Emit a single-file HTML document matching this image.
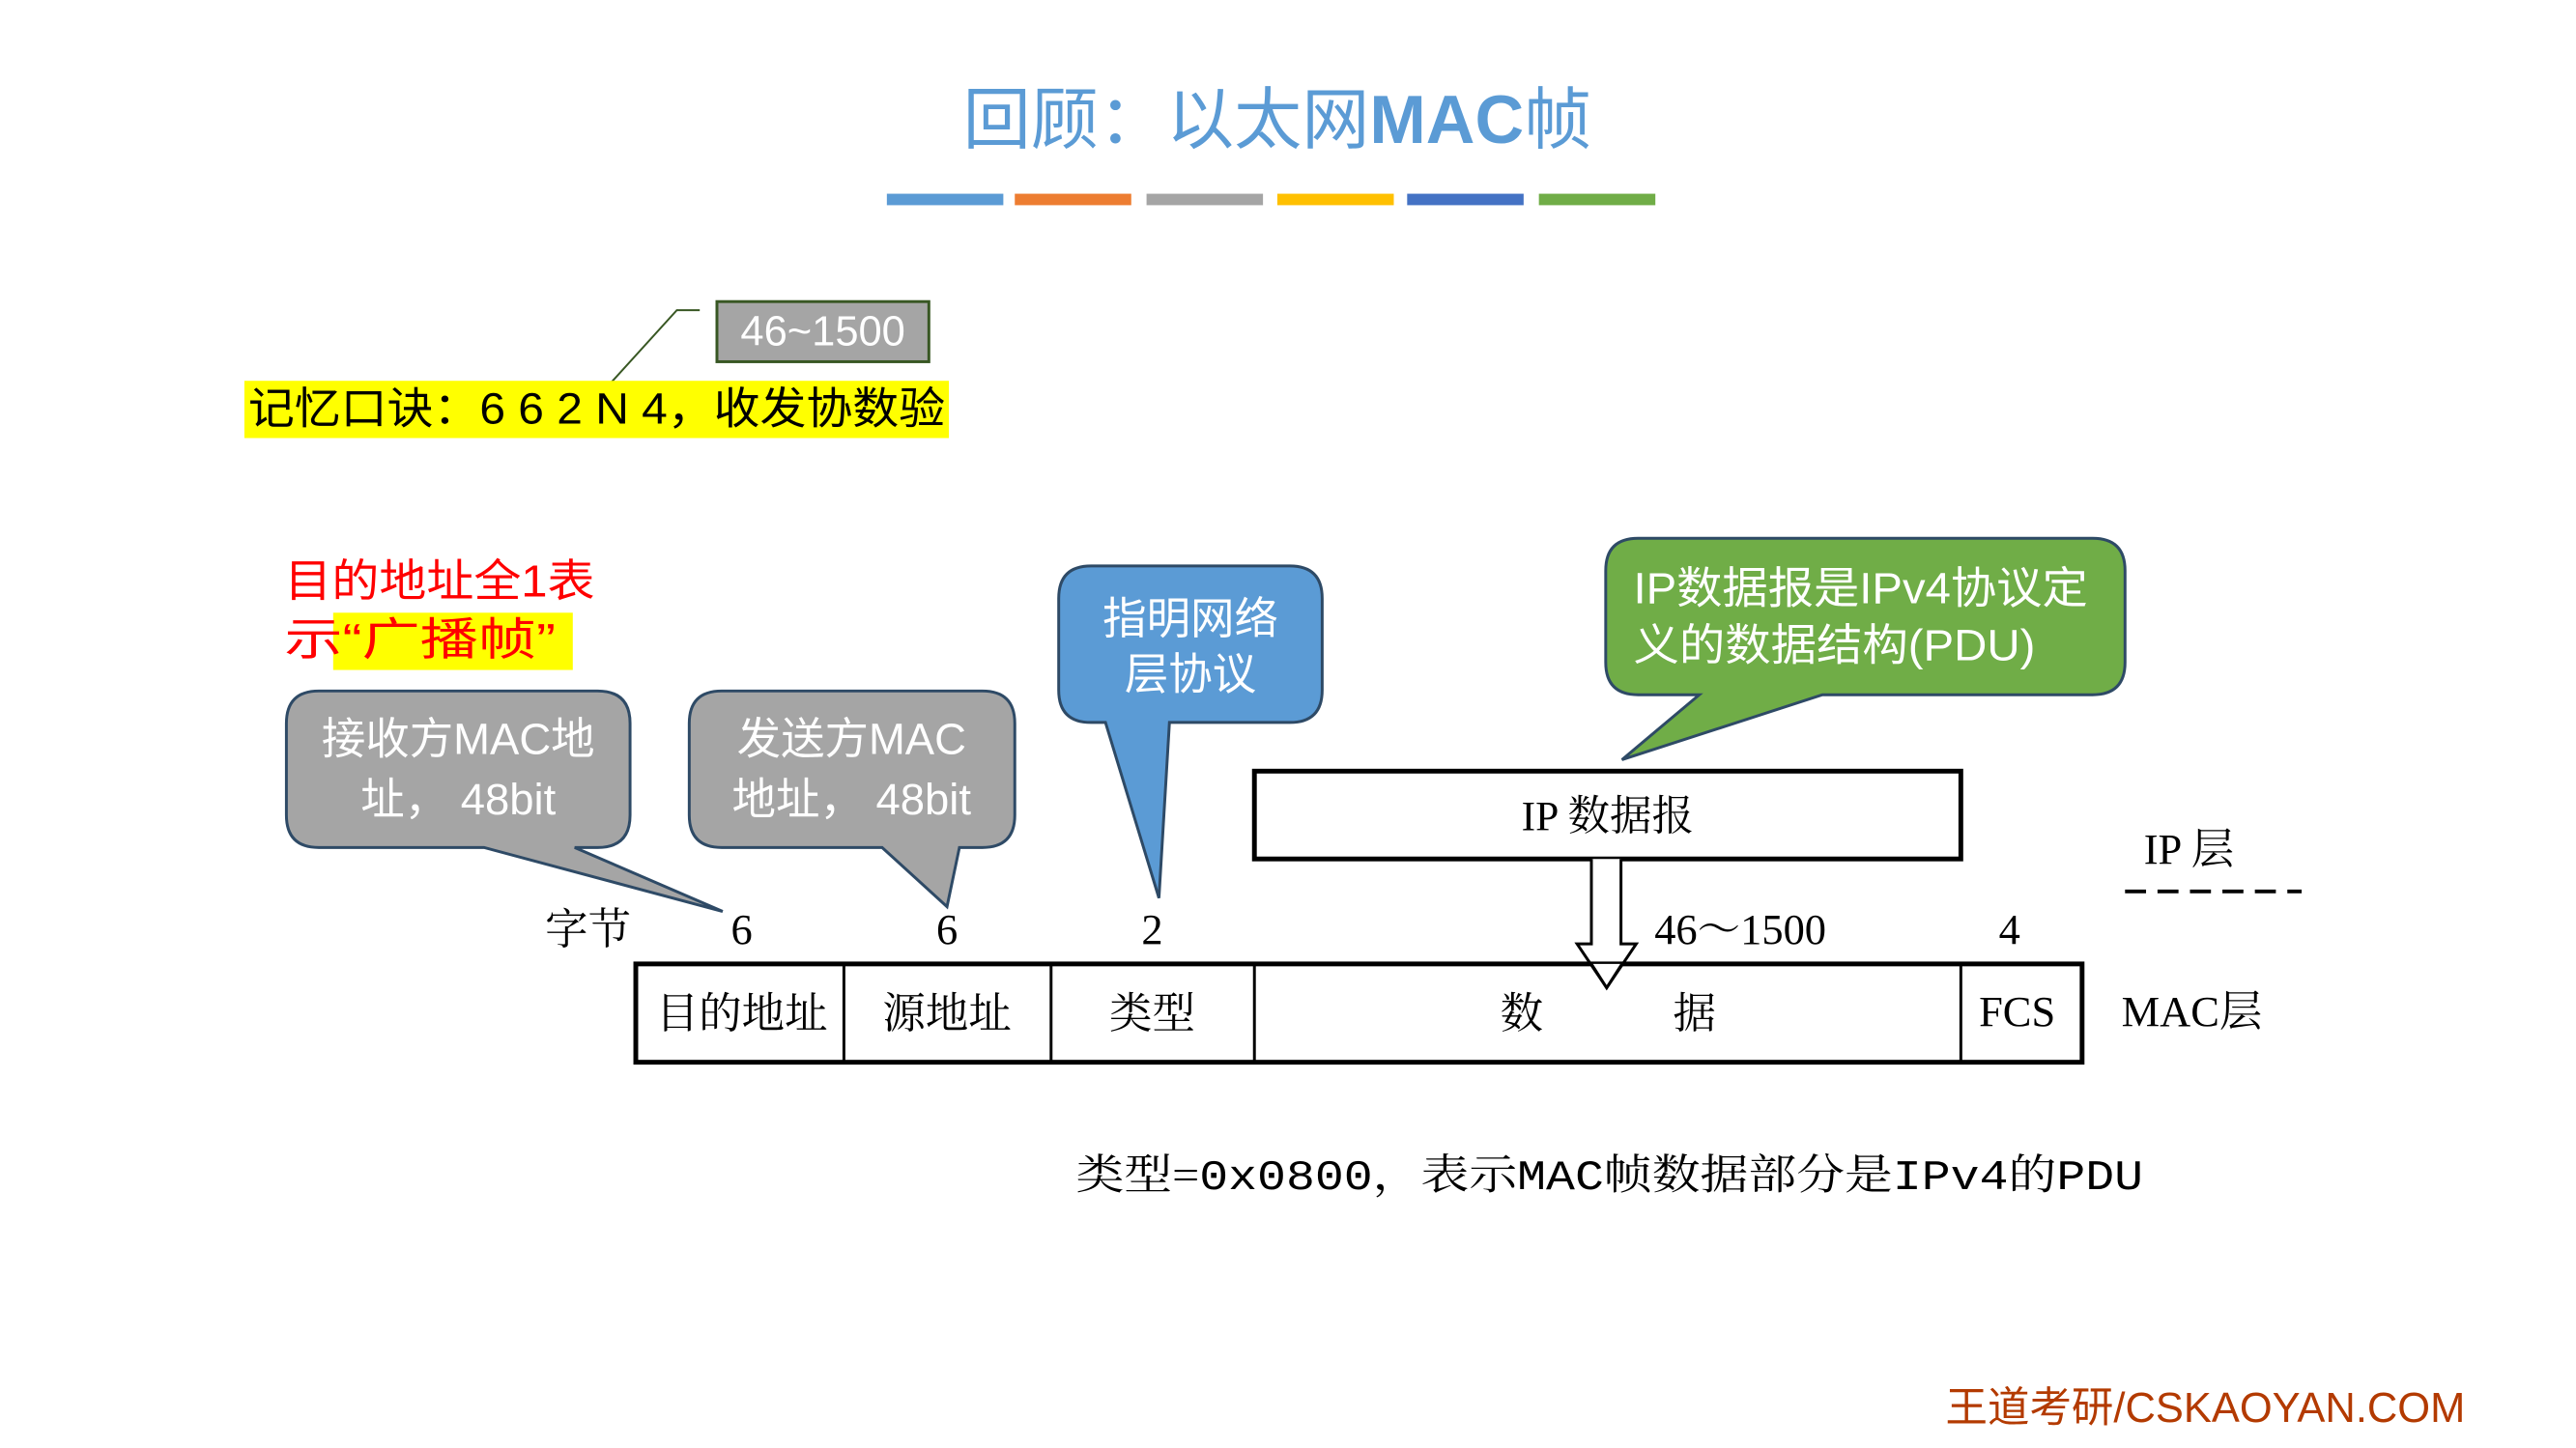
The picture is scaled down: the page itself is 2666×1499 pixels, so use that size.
<!DOCTYPE html>
<html><head><meta charset="utf-8"><style>
html,body{margin:0;padding:0;background:#fff}
svg{display:block}
.s{font-family:"Liberation Sans","Noto Sans CJK SC",sans-serif}
.r{font-family:"Liberation Serif","Noto Serif CJK SC",serif}
</style></head><body>
<svg width="2666" height="1499" viewBox="0 0 2666 1499" xmlns="http://www.w3.org/2000/svg">
<g transform="scale(0.988)">
<text x="1338" y="150" text-anchor="middle" class="s" font-size="71" fill="#5b9bd5">回顾：以太网<tspan font-weight="bold">MAC</tspan>帧</text>
<g>
<rect x="929" y="203" width="122" height="12" fill="#5b9bd5"/>
<rect x="1063" y="203" width="122" height="12" fill="#ed7d31"/>
<rect x="1201" y="203" width="122" height="12" fill="#a5a5a5"/>
<rect x="1338" y="203" width="122" height="12" fill="#ffc000"/>
<rect x="1474" y="203" width="122" height="12" fill="#4472c4"/>
<rect x="1612" y="203" width="122" height="12" fill="#70ad47"/>
</g>
<polyline points="640,401 709,325 733,325" fill="none" stroke="#385723" stroke-width="2"/>
<rect x="751" y="316" width="222" height="63" fill="#a5a5a5" stroke="#385723" stroke-width="3"/>
<text x="862" y="362" text-anchor="middle" class="s" font-size="44" fill="#fff">46~1500</text>
<rect x="256" y="399" width="738" height="60" fill="#ffff00"/>
<text x="260" y="444" class="s" font-size="46" fill="#000" textLength="730" lengthAdjust="spacingAndGlyphs">记忆口诀：6 6 2 N 4，收发协数验</text>
<text x="298" y="625" class="s" font-size="47" fill="#ff0000" textLength="325" lengthAdjust="spacingAndGlyphs">目的地址全1表</text>
<rect x="349" y="642" width="251" height="60" fill="#ffff00"/>
<text x="298" y="686" class="s" font-size="47" fill="#ff0000" textLength="284" lengthAdjust="spacingAndGlyphs">示“广播帧”</text>
<path d="M334,724 H626 Q660,724 660,758 V854 Q660,888 626,888 H602 L757,955 L507,888 H334 Q300,888 300,854 V758 Q300,724 334,724 Z" fill="#a5a5a5" stroke="#2e4a66" stroke-width="3"/>
<text x="480" y="790" text-anchor="middle" class="s" font-size="46" fill="#fff">接收方MAC地</text>
<text x="480" y="853" text-anchor="middle" class="s" font-size="46" fill="#fff">址， 48bit</text>
<path d="M756,724 H1029 Q1063,724 1063,758 V854 Q1063,888 1029,888 H1005 L992,950 L924,888 H756 Q722,888 722,854 V758 Q722,724 756,724 Z" fill="#a5a5a5" stroke="#2e4a66" stroke-width="3"/>
<text x="892" y="790" text-anchor="middle" class="s" font-size="46" fill="#fff">发送方MAC</text>
<text x="892" y="853" text-anchor="middle" class="s" font-size="46" fill="#fff">地址， 48bit</text>
<path d="M1143,593 H1351 Q1385,593 1385,627 V723 Q1385,757 1351,757 H1225 L1214,941 L1158,757 H1143 Q1109,757 1109,723 V627 Q1109,593 1143,593 Z" fill="#5b9bd5" stroke="#2e4a66" stroke-width="3"/>
<text x="1247" y="664" text-anchor="middle" class="s" font-size="46" fill="#fff">指明网络</text>
<text x="1247" y="722" text-anchor="middle" class="s" font-size="46" fill="#fff">层协议</text>
<path d="M1716,564 H2192 Q2226,564 2226,598 V694 Q2226,728 2192,728 H1909 L1699,796 L1780,728 H1716 Q1682,728 1682,694 V598 Q1682,564 1716,564 Z" fill="#70ad47" stroke="#2e4a66" stroke-width="3"/>
<text x="1711" y="632" class="s" font-size="46" fill="#fff" textLength="476" lengthAdjust="spacingAndGlyphs">IP数据报是IPv4协议定</text>
<text x="1711" y="692" class="s" font-size="46" fill="#fff" textLength="421" lengthAdjust="spacingAndGlyphs">义的数据结构(PDU)</text>
<rect x="1314" y="808" width="740" height="92" fill="#fff" stroke="#000" stroke-width="5"/>
<text x="1684" y="870" text-anchor="middle" class="r" font-size="44" fill="#000">IP 数据报</text>
<path d="M1667,900 V989 H1652 L1683,1035 L1714,989 H1698 V900" fill="#fff" stroke="#000" stroke-width="3"/>
<rect x="666" y="1010" width="1515" height="103" fill="none" stroke="#000" stroke-width="5"/>
<g stroke="#000" stroke-width="3">
<line x1="884" y1="1010" x2="884" y2="1113"/>
<line x1="1101" y1="1010" x2="1101" y2="1113"/>
<line x1="1314" y1="1010" x2="1314" y2="1113"/>
<line x1="2054" y1="1010" x2="2054" y2="1113"/>
</g>
<path d="M1667,1010 L1683,1035 L1699,1010" fill="#fff" stroke="#000" stroke-width="3"/>
<g class="r" font-size="45" fill="#000" text-anchor="middle">
<text x="616" y="989">字节</text>
<text x="777" y="989">6</text>
<text x="992" y="989">6</text>
<text x="1207" y="989">2</text>
<text x="1823" y="989">46～1500</text>
<text x="2105" y="989">4</text>
<text x="777" y="1077">目的地址</text>
<text x="992" y="1077">源地址</text>
<text x="1207" y="1077">类型</text>
<text x="1594" y="1077">数</text>
<text x="1775" y="1077">据</text>
<text x="2113" y="1075">FCS</text>
<text x="2296" y="1075">MAC层</text>
<text x="2293" y="905">IP 层</text>
</g>
<line x1="2226" y1="934" x2="2411" y2="934" stroke="#000" stroke-width="4" stroke-dasharray="22,12"/>
<text x="1127" y="1246" class="r" font-size="44" fill="#000" textLength="1118" lengthAdjust="spacingAndGlyphs">类型=<tspan font-family="Liberation Mono,monospace">0x0800</tspan>，表示<tspan font-family="Liberation Mono,monospace">MAC</tspan>帧数据部分是<tspan font-family="Liberation Mono,monospace">IPv4</tspan>的<tspan font-family="Liberation Mono,monospace">PDU</tspan></text>
<text x="2038" y="1490" class="s" font-size="44" fill="#b33a00">王道考研/CSKAOYAN.COM</text>
</g>
</svg>
</body></html>
